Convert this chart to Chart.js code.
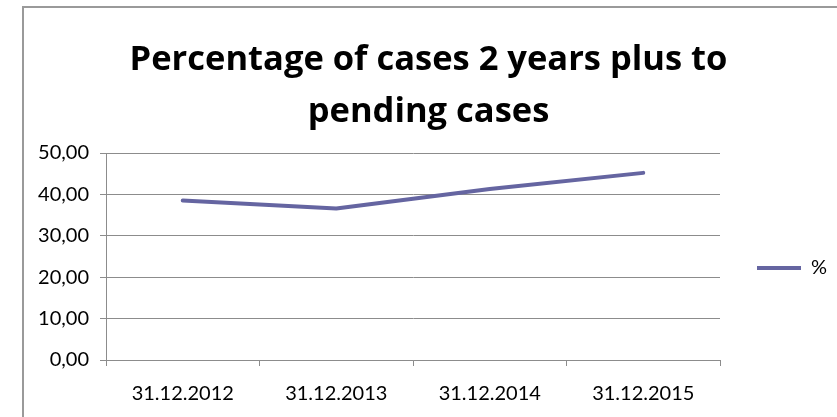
<!DOCTYPE html>
<html>
<head>
<meta charset="utf-8">
<script src="https://cdn.jsdelivr.net/npm/chart.js@4/dist/chart.umd.min.js"></script>
<style>
  html, body { margin: 0; padding: 0; background: #ffffff; }
  #wrap { position: relative; width: 837px; height: 417px; overflow: hidden; }
  #frame { position: absolute; left: 22px; top: 6px; width: 900px; height: 500px;
           border-left: 2px solid #9a9a9a; border-top: 2px solid #9a9a9a; box-sizing: border-box; }
  canvas { position: absolute; left: 0; top: 0; }
</style>
</head>
<body>
<div id="wrap">
  <div id="frame"></div>
  <canvas id="c" width="837" height="417"></canvas>
</div>
<script>
const titleLines = ['Percentage of cases 2 years plus to', 'pending cases'];
const categories = ['31.12.2012', '31.12.2013', '31.12.2014', '31.12.2015'];
const seriesName = '%';
const seriesValues = [38.5, 36.6, 41.3, 45.2];
const yTickValues = [0, 10, 20, 30, 40, 50];
const yTickLabels = ['0,00', '10,00', '20,00', '30,00', '40,00', '50,00'];

const gridGrey = '#8c8c8c';
const lineColor = '#6565a1';

Chart.defaults.font.family = 'Lato';

new Chart(document.getElementById('c'), {
  type: 'line',
  data: {
    labels: categories,
    datasets: [{
      label: seriesName,
      data: seriesValues,
      borderColor: lineColor,
      backgroundColor: lineColor,
      borderWidth: 4,
      borderCapStyle: 'round',
      borderJoinStyle: 'round',
      pointRadius: 0,
      pointHoverRadius: 0,
      tension: 0,
      fill: false
    }]
  },
  options: {
    responsive: false,
    animation: false,
    layout: { padding: { top: 0, left: 22, right: 2, bottom: 0 } },
    plugins: {
      title: {
        display: true,
        text: titleLines,
        color: '#000000',
        font: { family: 'Open Sans', weight: 'bold', size: 34.5, lineHeight: '52px' },
        padding: { top: 34, bottom: 15 }
      },
      legend: {
        display: true,
        position: 'right',
        fullSize: false,
        maxWidth: 115,
        title: { display: true, text: '', font: { size: 10 }, padding: { top: 0, bottom: 11 } },
        labels: {
          color: '#000000',
          font: { family: 'Lato', size: 20 },
          usePointStyle: true,
          pointStyle: 'line',
          pointStyleWidth: 44,
          padding: 37
        }
      },
      tooltip: { enabled: false }
    },
    scales: {
      x: {
        offset: true,
        grid: {
          display: true,
          offset: true,
          drawOnChartArea: false,
          drawTicks: true,
          tickLength: 6,
          color: gridGrey
        },
        border: { display: true, color: gridGrey },
        ticks: {
          color: '#000000',
          font: { family: 'Lato', size: 20 },
          padding: 16,
          maxRotation: 0,
          autoSkip: false
        },
        afterFit: (scale) => { scale.height = 57; }
      },
      y: {
        min: 0,
        max: 50,
        afterBuildTicks: (scale) => { scale.ticks = yTickValues.map(v => ({ value: v })); },
        grid: {
          color: gridGrey,
          drawTicks: true,
          tickLength: 6
        },
        border: { display: true, color: gridGrey },
        ticks: {
          color: '#000000',
          font: { family: 'Lato', size: 20 },
          padding: 11,
          callback: (value) => {
            const i = yTickValues.indexOf(value);
            return i >= 0 ? yTickLabels[i] : '';
          }
        },
        afterFit: (scale) => { scale.width = 84; }
      }
    }
  }
});
</script>
</body>
</html>
